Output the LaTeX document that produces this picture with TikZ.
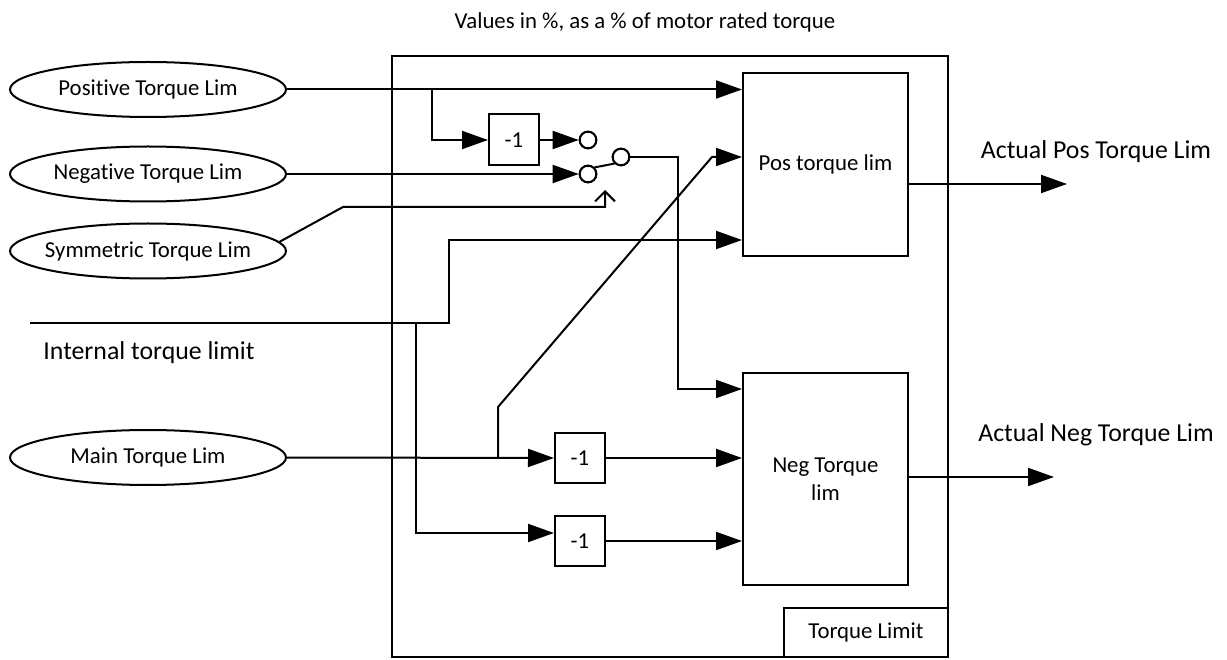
\documentclass[tikz,border=0pt]{standalone}
\usepackage{fontspec}
\setmainfont{Carlito}[Ligatures=NoCommon]
\usetikzlibrary{arrows.meta,shapes.geometric,calc}
\tikzset{
  lw/.style={line width=2pt},
  arr/.style={lw,-{Triangle[length=26pt,width=18pt]}},
  lab/.style={font=\fontsize{22.8pt}{28pt}\selectfont},
  biglab/.style={font=\fontsize{25.8pt}{30pt}\selectfont},
  oval/.style={ellipse,draw,lw,minimum width=276pt,minimum height=55pt,inner sep=0pt,lab},
  blk/.style={rectangle,draw,lw,inner sep=0pt,lab,align=center},
  sw/.style={circle,draw,lw,fill=white,minimum size=16.6pt,inner sep=0pt},
}
\begin{document}
\begin{tikzpicture}[x=1pt,y=-1pt]
\useasboundingbox (0,0) rectangle (1227,660);
% title
\node[lab] (title) at (645,22) {Values in \%, as a \% of motor rated torque};
% big box and label box
\node[blk,minimum width=556pt,minimum height=601pt] (big) at (670,356.5) {};
\node[blk,minimum width=164pt,minimum height=49pt] (tl) at (866,632.5) {Torque Limit};
% inputs
\node[oval] (ePos) at (148,89.5) {\makebox[0pt]{Positive Torque Lim}};
\node[oval] (eNeg) at (148,174) {\makebox[0pt]{Negative Torque Lim}};
\node[oval] (eSym) at (148,251) {\makebox[0pt]{Symmetric Torque Lim}};
\node[oval] (eMain) at (148,457.5) {\makebox[0pt]{Main Torque Lim}};
\node[lab,biglab] (itl) at (149,353) {Internal torque limit};
% blocks
\node[blk,minimum width=165pt,minimum height=183pt] (posb) at (825.5,164.5) {Pos torque lim};
\node[blk,minimum width=165pt,minimum height=212pt] (negb) at (825.5,479) {Neg Torque\\lim};
\node[blk,minimum width=50pt,minimum height=51pt] (m1) at (514,140) {-1};
\node[blk,minimum width=50pt,minimum height=50pt] (m2) at (580,458) {-1};
\node[blk,minimum width=50pt,minimum height=50pt] (m3) at (580,541) {-1};
% switch contacts
\node[sw] (c1) at (588,140) {};
\node[sw] (c2) at (588,174) {};
\node[sw] (c3) at (621,157) {};
% coordinates
\coordinate (j1) at (432,89.5);
\coordinate (it0) at (30,323);
\coordinate (j2) at (449,240);
\coordinate (j3) at (416,323);
\coordinate (j4) at (498,457.5);
\coordinate (d1) at (498,407);
\coordinate (d2) at (712,157);
\coordinate (k1) at (678,157);
\coordinate (s1) at (343,207);
\coordinate (s2) at (605,207);
\coordinate (s3) at (605,190);
\coordinate (o1) at (1067,184);
\coordinate (o2) at (1054,477);
% outputs labels
\node[biglab] (lp) at (1096,152) {Actual Pos Torque Lim};
\node[biglab] (ln) at (1096,435) {Actual Neg Torque Lim};
% connectors
\draw[arr] (ePos.east) -- (ePos.east -| posb.west);
\draw[arr] (j1) |- (m1.west);
\draw[arr] (m1.east) -- (c1.west);
\draw[arr] (eNeg.east) -- (c2.west);
\draw[lw] (c2.45) -- (c3.225);
\draw[arr] (c3.east) -- (k1) |- ($(negb.north west)+(0,17)$);
\draw[lw,-{Straight Barb[length=10pt,width=20pt]}] (eSym.4) -- (s1) -- (s2) -- (s3);
\draw[arr] (it0) -| (j2) -- (j2 -| posb.west);
\draw[arr] (j3) |- ($(m3.west)+(0,-8)$);
\draw[arr] (eMain.east) -- (m2.west);
\draw[arr] (j4) -- (d1) -- (d2) -- (d2 -| posb.west);
\draw[arr] (m2.east) -- (m2.east -| negb.west);
\draw[arr] (m3.east) -- (m3.east -| negb.west);
\draw[arr] ($(posb.east)+(0,19.5)$) -- (o1);
\draw[arr] ($(negb.east)+(0,-2)$) -- (o2);
% redraw circles on top
\node[sw] at (c1) {};
\node[sw] at (c2) {};
\node[sw] at (c3) {};
\end{tikzpicture}
\end{document}
